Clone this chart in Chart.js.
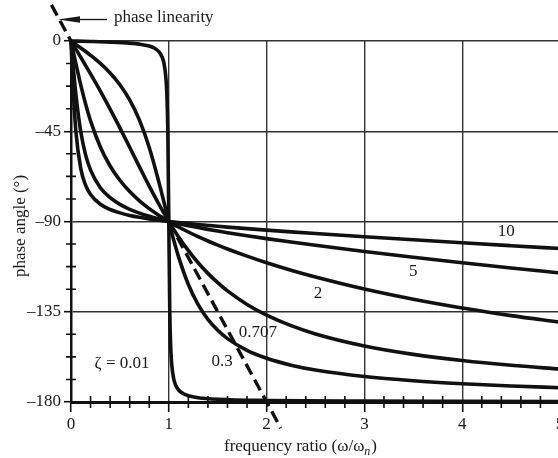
<!DOCTYPE html>
<html>
<head>
<meta charset="utf-8">
<script src="https://cdn.jsdelivr.net/npm/chart.js@4.4.1/dist/chart.umd.min.js"></script>
<style>
  html, body { margin: 0; padding: 0; background: #fff; overflow: hidden; }
  canvas { display: block; }
</style>
</head>
<body>
<canvas id="phase" width="580" height="458"></canvas>
<script>
// frequency ratio samples shared by the damped curves
const ratio = [0, 0.02, 0.05, 0.1, 0.15, 0.2, 0.3, 0.4, 0.5, 0.6, 0.7, 0.8, 0.9, 0.95, 1,
  1.05, 1.1, 1.2, 1.3, 1.4, 1.5, 1.6, 1.8, 2, 2.25, 2.5, 3, 3.5, 4, 4.5, 5];

// phase angle (deg)
const phase10 = [0, -21.81, -45.07, -63.66, -71.96, -76.50, -81.38, -84.01, -85.71, -86.95, -87.91, -88.71, -89.40, -89.71, -90,
  -90.28, -90.55, -91.05, -91.52, -91.96, -92.39, -92.79, -93.56, -94.29, -95.16, -95.99, -97.59, -99.13, -100.62, -102.07, -103.50];
const phase5 = [0, -11.31, -26.62, -45.29, -56.92, -64.36, -73.13, -78.14, -81.47, -83.91, -85.83, -87.42, -88.79, -89.41, -90,
  -90.56, -91.09, -92.10, -93.04, -93.92, -94.76, -95.57, -97.09, -98.53, -100.24, -101.86, -104.93, -107.82, -110.56, -113.16, -115.64];
const phase2 = [0, -4.58, -11.34, -22.00, -31.55, -39.81, -52.83, -62.31, -69.44, -75.07, -79.68, -83.58, -86.98, -88.53, -90,
  -91.40, -92.73, -95.24, -97.56, -99.73, -101.77, -103.70, -107.28, -110.56, -114.29, -117.69, -123.69, -128.78, -133.15, -136.92, -140.19];
const phase0707 = [0, -1.62, -4.05, -8.13, -12.24, -16.42, -24.99, -33.95, -43.31, -52.97, -62.74, -72.35, -81.51, -85.85, -90,
  -93.95, -97.69, -104.54, -110.58, -115.87, -120.51, -124.59, -131.35, -136.69, -141.93, -146.05, -152.06, -156.25, -159.34, -161.71, -163.58];
const phase03 = [0, -0.69, -1.72, -3.47, -5.26, -7.13, -11.19, -15.95, -21.80, -29.36, -39.47, -53.13, -70.62, -80.29, -90,
  -99.24, -107.65, -121.43, -131.49, -138.82, -144.25, -148.40, -154.26, -158.20, -161.62, -164.05, -167.32, -169.43, -170.91, -172.02, -172.87];

// the nearly undamped curve needs its own, denser samples around resonance
const ratioSharp = [0, 0.2, 0.4, 0.6, 0.7, 0.8, 0.85, 0.9, 0.93, 0.95, 0.97, 0.98, 0.99, 1,
  1.01, 1.02, 1.03, 1.05, 1.07, 1.1, 1.15, 1.2, 1.3, 1.5, 2, 3, 4, 5];
const phase001 = [0, -0.24, -0.55, -1.07, -1.57, -2.54, -3.51, -5.41, -7.84, -11.03, -18.17, -26.33, -44.86, -90,
  -134.86, -153.21, -161.31, -168.42, -171.60, -174.02, -175.92, -176.88, -177.84, -178.63, -179.24, -179.57, -179.69, -179.76];

// phase linearity reference line; its middle stretch hides under the 0.707 curve
const linearRatio = [-0.2, 0, 0.5, 1, 2.145];
const linearPhase = [18, 0, null, -90, -193];

const yTicks = [0, -45, -90, -135, -180];
const curveLabels = ['10', '5', '2', '0.707', '0.3', '\u03b6 = 0.01'];

const FONT = '"Liberation Serif", "Times New Roman", serif';
const INK = '#111';

function toPoints(xs, ys) {
  return xs.map((x, i) => ({ x: x, y: ys[i] }));
}

function curve(xs, ys) {
  return {
    data: toPoints(xs, ys),
    showLine: true,
    borderColor: INK,
    borderWidth: 3.6,
    pointRadius: 0,
    cubicInterpolationMode: 'monotone',
    clip: 4
  };
}

// where each curve label sits, in data units (same order as curveLabels)
const labelSpots = [[4.45, -95.2], [3.5, -114.7], [2.525, -125.8], [1.912, -145.6], [1.544, -160], [0.522, -160.6]];

const extras = {
  id: 'extras',
  beforeDatasetsDraw(chart) {
    const ctx = chart.ctx;
    const xs = chart.scales.x;
    const ys = chart.scales.y;
    const x0 = xs.getPixelForValue(0);
    const yb = ys.getPixelForValue(-180);
    ctx.save();
    ctx.strokeStyle = INK;
    ctx.lineWidth = 1.6;
    ctx.beginPath();
    // minor ticks on the frequency axis, every 0.2
    for (let i = 1; i < 25; i++) {
      if (i % 5 === 0) continue;
      const px = xs.getPixelForValue(i * 0.2);
      ctx.moveTo(px, yb - 6);
      ctx.lineTo(px, yb + 6);
    }
    // minor ticks on the phase axis, every 11.25 deg
    for (let i = 1; i < 16; i++) {
      if (i % 4 === 0) continue;
      const py = ys.getPixelForValue(-i * 11.25);
      ctx.moveTo(x0 - 5, py);
      ctx.lineTo(x0 + 5, py);
    }
    ctx.stroke();
    ctx.restore();
  },
  afterDraw(chart) {
    const ctx = chart.ctx;
    const xs = chart.scales.x;
    const ys = chart.scales.y;
    ctx.save();
    ctx.fillStyle = '#1a1a1a';
    ctx.font = '17px ' + FONT;
    ctx.textAlign = 'center';
    ctx.textBaseline = 'middle';
    curveLabels.forEach((txt, i) => {
      const [lx, ly] = labelSpots[i];
      ctx.fillText(txt, xs.getPixelForValue(lx), ys.getPixelForValue(ly));
    });

    // phase linearity callout
    ctx.textAlign = 'left';
    ctx.fillText('phase linearity', 114, 18);
    ctx.strokeStyle = INK;
    ctx.lineWidth = 1.3;
    ctx.beginPath();
    ctx.moveTo(107, 19.5);
    ctx.lineTo(76, 19.5);
    ctx.stroke();
    ctx.beginPath();
    ctx.moveTo(58, 19.5);
    ctx.lineTo(80, 16.2);
    ctx.lineTo(80, 22.8);
    ctx.closePath();
    ctx.fill();

    // axis titles
    ctx.save();
    ctx.translate(21, 226);
    ctx.rotate(-Math.PI / 2);
    ctx.textAlign = 'center';
    ctx.fillText('phase angle (\u00b0)', 0, 0);
    ctx.restore();

    ctx.textBaseline = 'alphabetic';
    let tx = 224;
    const base = 451;
    const main = 'frequency ratio (\u03c9/\u03c9';
    ctx.fillText(main, tx, base);
    tx += ctx.measureText(main).width;
    ctx.font = 'italic 12px ' + FONT;
    ctx.fillText('n', tx, base + 4);
    tx += ctx.measureText('n').width + 1;
    ctx.font = '17px ' + FONT;
    ctx.fillText(')', tx, base);
    ctx.restore();
  }
};

const datasets = [
  curve(ratio, phase10),
  curve(ratio, phase5),
  curve(ratio, phase2),
  curve(ratio, phase0707),
  curve(ratio, phase03),
  curve(ratioSharp, phase001),
  {
    data: toPoints(linearRatio, linearPhase),
    showLine: true,
    spanGaps: false,
    borderColor: INK,
    borderWidth: 3.4,
    borderDash: [12, 6],
    pointRadius: 0,
    clip: false
  }
];

new Chart(document.getElementById('phase'), {
  type: 'scatter',
  data: { datasets: datasets },
  options: {
    responsive: false,
    animation: false,
    devicePixelRatio: 1,
    layout: { padding: { top: 41, right: 20, left: 0, bottom: 0 } },
    plugins: { legend: { display: false }, tooltip: { enabled: false } },
    scales: {
      x: {
        type: 'linear',
        min: 0,
        max: 5,
        ticks: {
          stepSize: 1,
          padding: 2,
          maxRotation: 0,
          color: '#1a1a1a',
          font: { family: FONT, size: 17 }
        },
        grid: { color: '#333', lineWidth: 1.4, tickLength: 10, tickColor: INK, tickWidth: 1.6 },
        border: { color: INK, width: 3 },
        afterFit(scale) { scale.height = 56; }
      },
      y: {
        min: -180,
        max: 0,
        afterBuildTicks(scale) { scale.ticks = yTicks.map(v => ({ value: v })); },
        ticks: {
          padding: 3,
          color: '#1a1a1a',
          font: { family: FONT, size: 17 },
          callback: v => (v === 0 ? '0' : '\u2013' + Math.abs(v))
        },
        grid: { color: '#333', lineWidth: 1.4, tickLength: 7, tickColor: INK, tickWidth: 1.6 },
        border: { color: INK, width: 2.5 },
        afterFit(scale) { scale.width = 71; }
      }
    }
  },
  plugins: [extras]
});
</script>
</body>
</html>
